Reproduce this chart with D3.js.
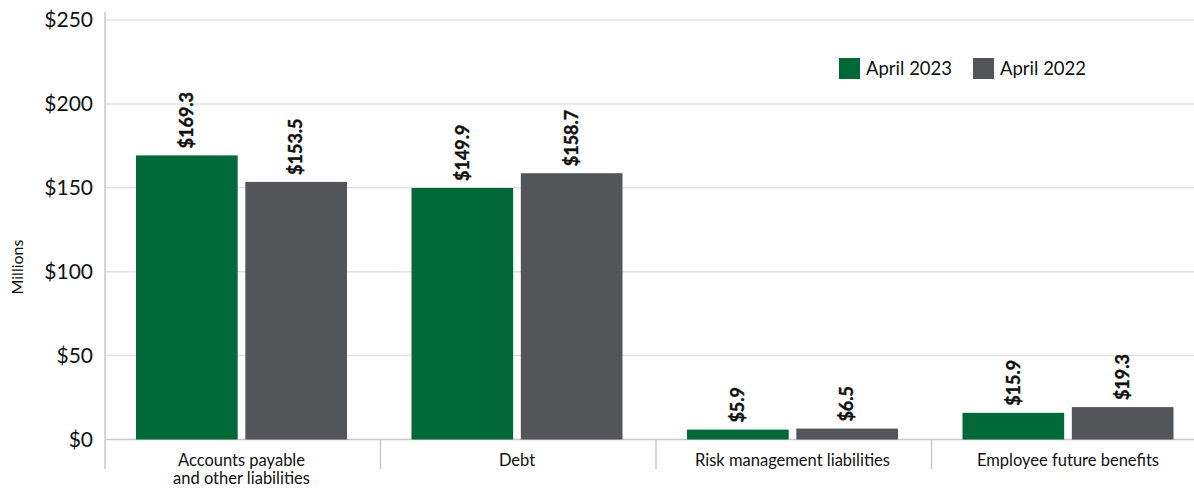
<!DOCTYPE html>
<html>
<head>
<meta charset="utf-8">
<script src="https://cdn.jsdelivr.net/npm/d3@7"></script>
<style>
  body { margin: 0; background: #fff; }
  svg { font-family: Lato, "Open Sans", sans-serif; }
</style>
</head>
<body>
<script>
(function(){
    var categories = [["Accounts payable", "and other liabilities"], ["Debt"],
        ["Risk management liabilities"], ["Employee future benefits"]];
    var seriesNames = ["April 2023", "April 2022"];
    var april2023 = [169.3, 149.9, 5.9, 15.9];
    var april2022 = [153.5, 158.7, 6.5, 19.3];
    var yTicks = [0, 50, 100, 150, 200, 250];
    var colors = ["#006937", "#545559"];

    var width = 1194, height = 489;
    var left = 105, right = 1207, top = 20, base = 439.5;

    var svg = d3.select("body").append("svg")
        .attr("width", width).attr("height", height);

    var y = d3.scaleLinear().domain([0, 250]).range([base, top]);
    var x0 = d3.scaleBand().domain(d3.range(categories.length)).range([left, right]);
    var x1 = d3.scaleBand().domain(seriesNames).range([31, 242]).paddingInner(0.07);

    // gridlines
    svg.append("g").selectAll("line").data(yTicks).enter().append("line")
        .attr("x1", left).attr("x2", width)
        .attr("y1", function(d){ return y(d); }).attr("y2", function(d){ return y(d); })
        .attr("stroke", function(d){ return d === 0 ? "#c8c8c8" : "#e2e2e2"; })
        .attr("stroke-width", 1.5);

    // left axis line
    svg.append("line").attr("x1", left).attr("x2", left)
        .attr("y1", 12).attr("y2", 469)
        .attr("stroke", "#c8c8c8").attr("stroke-width", 1.5);

    // category separators
    svg.append("g").selectAll("line").data(d3.range(1, categories.length)).enter().append("line")
        .attr("x1", function(d){ return x0(d); }).attr("x2", function(d){ return x0(d); })
        .attr("y1", base).attr("y2", 469)
        .attr("stroke", "#c8c8c8").attr("stroke-width", 1.5);

    // y tick labels
    svg.append("g").selectAll("text").data(yTicks).enter().append("text")
        .attr("x", 93).attr("y", function(d){ return y(d); })
        .attr("dy", "0.35em").attr("text-anchor", "end")
        .attr("font-size", 21).attr("fill", "#111")
        .text(function(d){ return "$" + d; });

    svg.append("text")
        .attr("transform", "translate(17,267) rotate(-90)")
        .attr("text-anchor", "middle").attr("dy", "0.35em")
        .attr("font-size", 16).attr("fill", "#111")
        .text("Millions");

    var rows = categories.map(function(c, i){
        return [april2023[i], april2022[i]];
    });

    var groups = svg.append("g").selectAll("g").data(rows).enter().append("g")
        .attr("transform", function(d, i){ return "translate(" + x0(i) + ",0)"; });

    groups.selectAll("rect").data(function(d){ return d; }).enter().append("rect")
        .attr("x", function(d, j){ return x1(seriesNames[j]); })
        .attr("width", x1.bandwidth())
        .attr("y", function(d){ return y(d); })
        .attr("height", function(d){ return base - y(d); })
        .attr("fill", function(d, j){ return colors[j]; });

    groups.selectAll("text").data(function(d){ return d; }).enter().append("text")
        .attr("transform", function(d, j){
            var cx = x1(seriesNames[j]) + x1.bandwidth() / 2;
            return "translate(" + cx + "," + (y(d) - 7) + ") rotate(-90)";
        })
        .attr("dy", "0.35em").attr("font-size", 18).attr("font-weight", "bold")
        .attr("fill", "#111").attr("stroke", "#111").attr("stroke-width", 0.4)
        .text(function(d){ return "$" + d.toFixed(1); });

    // category labels
    var catLabels = svg.append("g").selectAll("text").data(categories).enter().append("text")
        .attr("x", function(d, i){ return x0(i) + x1.range()[0] + (x1.range()[1] - x1.range()[0]) / 2; })
        .attr("y", 466)
        .attr("text-anchor", "middle").attr("font-size", 16.5).attr("fill", "#111");
    catLabels.selectAll("tspan").data(function(d){ return d; }).enter().append("tspan")
        .attr("x", function(){ return d3.select(this.parentNode).attr("x"); })
        .attr("dy", function(d, k){ return k === 0 ? 0 : 18; })
        .text(function(d){ return d; });

    // legend
    var legX = [839, 973];
    var leg = svg.append("g").selectAll("g").data(seriesNames).enter().append("g")
        .attr("transform", function(d, i){ return "translate(" + legX[i] + ",58)"; });
    leg.append("rect").attr("width", 21).attr("height", 21)
        .attr("fill", function(d, i){ return colors[i]; });
    leg.append("text").attr("x", 27).attr("y", 11).attr("dy", "0.35em")
        .attr("font-size", 18.5).attr("fill", "#111")
        .text(function(d){ return d; });
})();
</script>
</body>
</html>
